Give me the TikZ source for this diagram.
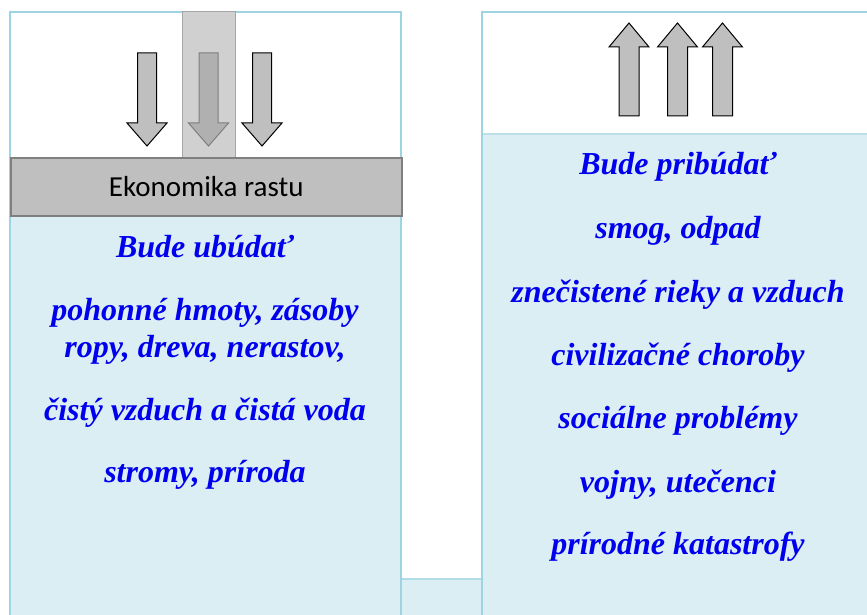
\documentclass[tikz,border=0pt]{standalone}
\usepackage{fontspec}
\setmainfont{Liberation Serif}
\newfontfamily\calib{Carlito}
\definecolor{aquafill}{HTML}{DAEEF3}
\definecolor{aqualine}{HTML}{9ED3E1}
\definecolor{bartext}{HTML}{0000EE}
\definecolor{barfill}{HTML}{BFBFBF}
\definecolor{barline}{HTML}{7F7F7F}
\definecolor{colfill}{HTML}{D0D0D0}
\definecolor{colline}{HTML}{A6A6A6}
\definecolor{midfill}{HTML}{B0B0B0}
\tikzset{
  bluetxt/.style={anchor=base, text=bartext, font=\fontsize{32}{34}\selectfont\bfseries\itshape, inner sep=0pt},
  sidearrow/.style={fill=barfill, draw=black, line width=1pt, line join=miter},
  midarrow/.style={fill=midfill, draw=barline, line width=1pt, line join=miter},
  border/.style={draw=aqualine, line width=1.5pt},
}
\newcommand{\downarr}[2]{% center x, style
  \draw[#2] (#1-9.5,53) -- (#1+9.5,53) -- (#1+9.5,123) -- (#1+20,123) -- (#1,146) -- (#1-20,123) -- (#1-9.5,123) -- cycle;}
\newcommand{\uparr}[1]{%
  \draw[sidearrow] (#1-10,116) -- (#1+10,116) -- (#1+10,47) -- (#1+20,47) -- (#1,23) -- (#1-20,47) -- (#1-10,47) -- cycle;}
\begin{document}
\begin{tikzpicture}[x=1pt,y=-1pt]
\useasboundingbox (0,0) rectangle (867,615);
% left panel
\fill[white] (10,12) rectangle (401,157);
\fill[aquafill] (10,215) rectangle (401,615);
% right panel
\fill[white] (482,12) rectangle (867,134);
\fill[aquafill] (482,134) rectangle (867,615);
\draw[aqualine!70, line width=1.2pt] (482,134) -- (867,134);
% middle bottom cell
\fill[aquafill] (401,579) rectangle (482,615);
\draw[aqualine!80, line width=1.5pt] (401,579) -- (482,579);
% borders
\draw[border] (10,615) -- (10,12) -- (401,12) -- (401,615);
\draw[border] (482,615) -- (482,12) -- (867,12);
% center column
\draw[fill=colfill, draw=colline, line width=1pt] (182,12) rectangle (235,157);
% gray bar
\node[draw=barline, fill=barfill, line width=1.5pt, minimum width=391pt, minimum height=58pt, inner sep=0pt, anchor=north west, font=\calib\fontsize{29}{31}\selectfont] (bar) at (10,157) {Ekonomika rastu};
% down arrows
\downarr{147}{sidearrow}
\downarr{208.5}{midarrow}
\downarr{262}{sidearrow}
% up arrows
\uparr{629}
\uparr{677.5}
\uparr{722.5}
% left text
\node[bluetxt] (l1) at (205,257) {Bude ubúdať};
\node[bluetxt] (l2) at (205,320) {pohonné hmoty, zásoby};
\node[bluetxt] (l3) at (205,357) {ropy, dreva, nerastov,};
\node[bluetxt] (l4) at (205,420) {čistý vzduch a čistá voda};
\node[bluetxt] (l5) at (205,482) {stromy, príroda};
% right text
\node[bluetxt] (r1) at (678,175) {Bude pribúdať};
\node[bluetxt] (r2) at (678,238) {smog, odpad};
\node[bluetxt] (r3) at (678,302) {znečistené rieky a vzduch};
\node[bluetxt] (r4) at (678,365) {civilizačné choroby};
\node[bluetxt] (r5) at (678,428) {sociálne problémy};
\node[bluetxt] (r6) at (678,492) {vojny, utečenci};
\node[bluetxt] (r7) at (678,554) {prírodné katastrofy};
\end{tikzpicture}
\end{document}
